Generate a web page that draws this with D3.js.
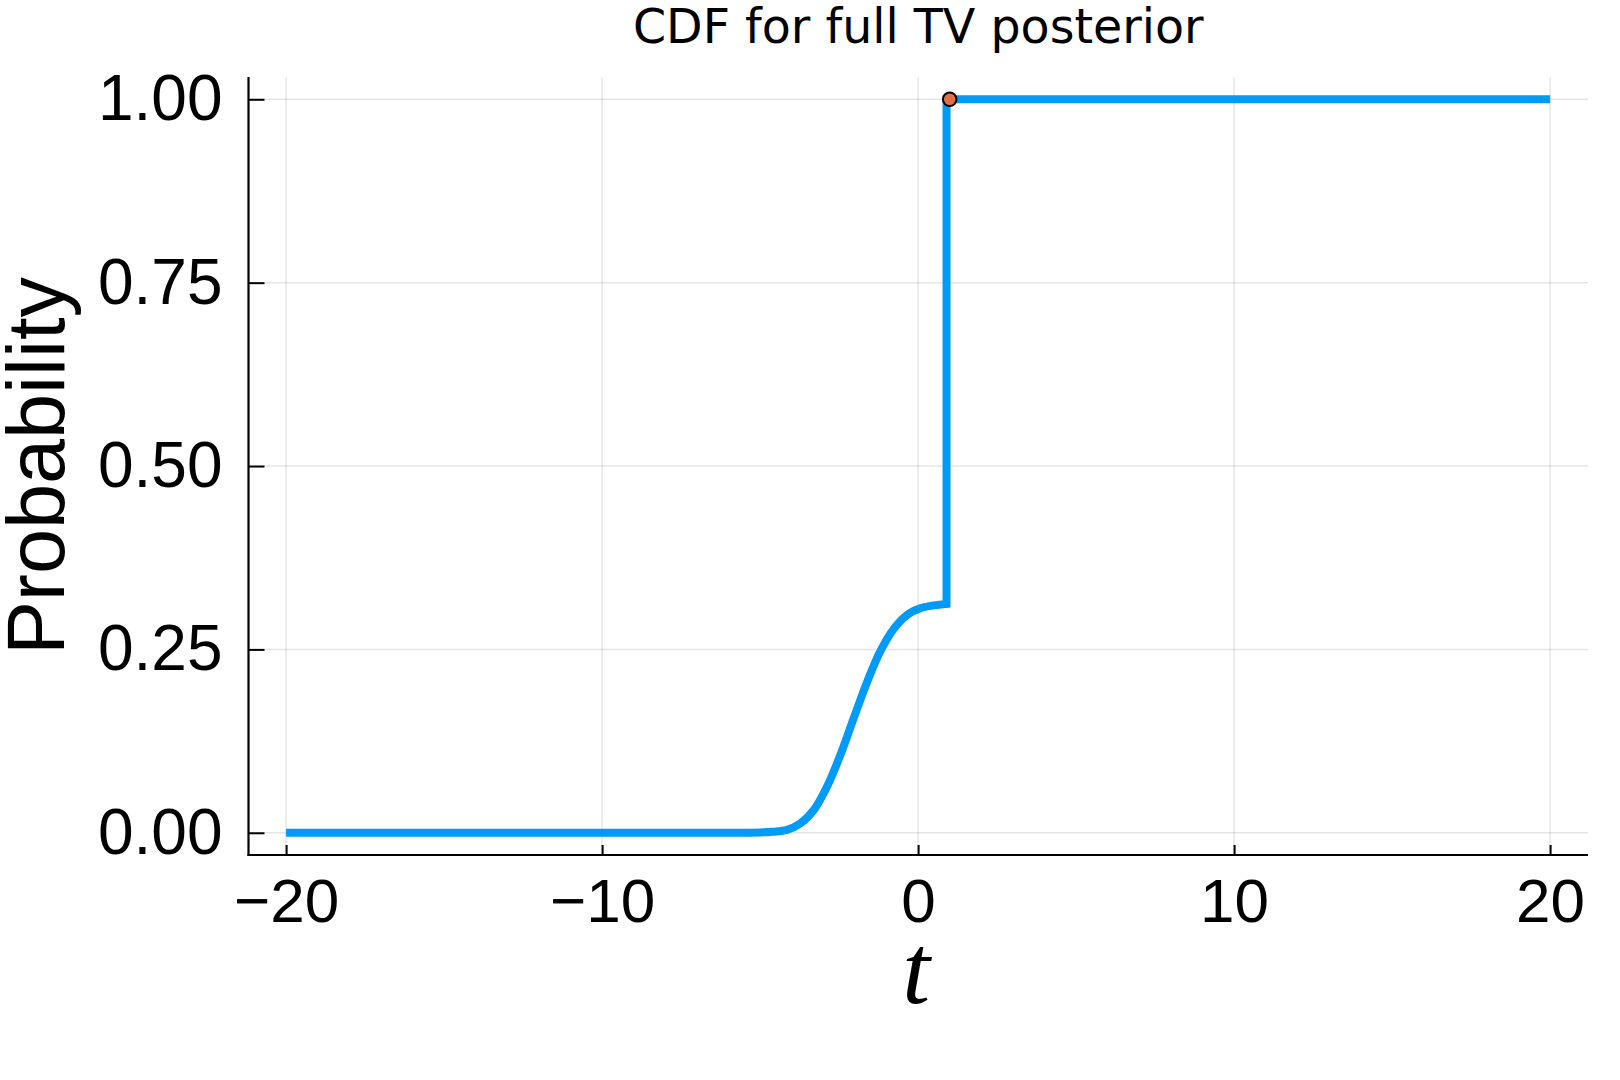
<!DOCTYPE html>
<html>
<head>
<meta charset="utf-8">
<script src="https://cdn.jsdelivr.net/npm/d3@7"></script>
<style>
  html, body { margin: 0; padding: 0; background: #fff; }
  svg { display: block; }
</style>
</head>
<body>
<svg id="chart" width="1620" height="1080"></svg>
<script>
// ---- data ----
const title = "CDF for full TV posterior";
const xLabel = "t";
const yLabel = "Probability";
const xTicks = [-20, -10, 0, 10, 20];
const yTicks = [0, 0.25, 0.5, 0.75, 1.0];
// smooth part of the CDF
const tSmooth = [-20, -13, -7, -6, -5, -4.6, -4.15, -3.72, -3.30, -2.88, -2.46, -2.04, -1.61, -1.19, -0.77, -0.35, 0.07, 0.5, 0.9];
const pSmooth = [0, 0, 0, 0, 0.0005, 0.0015, 0.004, 0.013, 0.031, 0.063, 0.106, 0.156, 0.206, 0.248, 0.278, 0.297, 0.306, 0.310, 0.312];
// step part of the CDF
const tStep = [0.9, 0.9, 20];
const pStep = [0.312, 1.0, 1.0];
// highlighted point
const markT = [1.0];
const markP = [1.0];

(function () {
// ---- layout ----
const svg = d3.select("#chart");
const pL = 248.5, pR = 1588, pT = 77, pB = 855;
const x = d3.scaleLinear().domain([-21.19, 21.2]).range([pL, pR]);
const y = d3.scaleLinear().domain([-0.0303, 1.0304]).range([pB, pT]);

svg.append("rect").attr("width", 1620).attr("height", 1080).attr("fill", "#fff");

// grid
const grid = svg.append("g");
grid.selectAll("line.gx").data(xTicks).enter().append("line")
  .attr("x1", d => x(d)).attr("x2", d => x(d))
  .attr("y1", pT).attr("y2", pB)
  .attr("stroke", "#000").attr("stroke-opacity", 0.1).attr("stroke-width", 1.5);
grid.selectAll("line.gy").data(yTicks).enter().append("line")
  .attr("x1", pL).attr("x2", pR)
  .attr("y1", d => y(d)).attr("y2", d => y(d))
  .attr("stroke", "#000").attr("stroke-opacity", 0.1).attr("stroke-width", 1.5);

// axes
const xAxis = d3.axisBottom(x).tickValues(xTicks).tickSize(-10).tickPadding(23)
  .tickFormat(d => d < 0 ? "\u2212" + Math.abs(d) : String(d));
const gx = svg.append("g").attr("transform", `translate(0,${pB})`).call(xAxis);
gx.select(".domain").remove();
gx.selectAll(".tick line").attr("stroke", "#000").attr("stroke-width", 2);
gx.selectAll(".tick text").attr("fill", "#000")
  .style("font-family", "'Liberation Sans', Arial, sans-serif").style("font-size", "62px");

const yAxis = d3.axisLeft(y).tickValues(yTicks).tickSize(-16).tickPadding(26)
  .tickFormat(d3.format(".2f"));
const gy = svg.append("g").attr("transform", `translate(${pL},0)`).call(yAxis);
gy.select(".domain").remove();
gy.selectAll(".tick line").attr("stroke", "#000").attr("stroke-width", 2);
gy.selectAll(".tick text").attr("fill", "#000")
  .style("font-family", "'Liberation Sans', Arial, sans-serif").style("font-size", "64px");

// axis lines
svg.append("line").attr("x1", pL).attr("x2", pL).attr("y1", pT).attr("y2", pB + 1)
  .attr("stroke", "#000").attr("stroke-width", 2.2);
svg.append("line").attr("x1", pL - 1).attr("x2", pR).attr("y1", pB).attr("y2", pB)
  .attr("stroke", "#000").attr("stroke-width", 2.2);

// curve
const smoothPts = tSmooth.map((t, i) => [x(t), y(pSmooth[i])]);
const stepPts = tStep.map((t, i) => [x(t), y(pStep[i])]);
const dSmooth = d3.line().curve(d3.curveCatmullRom.alpha(0.5))(smoothPts);
const dStep = d3.line()(stepPts).replace(/^M/, "L");
svg.append("path").attr("d", dSmooth + dStep)
  .attr("fill", "none").attr("stroke", "#009af9").attr("stroke-width", 8)
  .attr("stroke-linejoin", "miter").attr("stroke-linecap", "butt");

// marker
svg.selectAll("circle.mk").data(markT).enter().append("circle")
  .attr("cx", d => x(d)).attr("cy", (d, i) => y(markP[i])).attr("r", 6.8)
  .attr("fill", "#e26f46").attr("stroke", "#000").attr("stroke-width", 2);

// title
svg.append("text").attr("x", (pL + pR) / 2).attr("y", 43)
  .attr("text-anchor", "middle")
  .style("font-family", "'DejaVu Sans', sans-serif").style("font-size", "47.5px")
  .attr("fill", "#000").text(title);

// x label
svg.append("text").attr("x", (pL + pR) / 2 - 2).attr("y", 1003)
  .attr("text-anchor", "middle")
  .style("font-family", "'Liberation Serif', 'DejaVu Serif', serif").style("font-style", "italic")
  .style("font-size", "100px").attr("fill", "#000").text(xLabel);

// y label
svg.append("text")
  .attr("transform", `translate(64,${(pT + pB) / 2}) rotate(-90)`)
  .attr("text-anchor", "middle")
  .style("font-family", "'Liberation Sans', Arial, sans-serif").style("font-size", "81px")
  .attr("fill", "#000").text(yLabel);
})();
</script>
</body>
</html>
